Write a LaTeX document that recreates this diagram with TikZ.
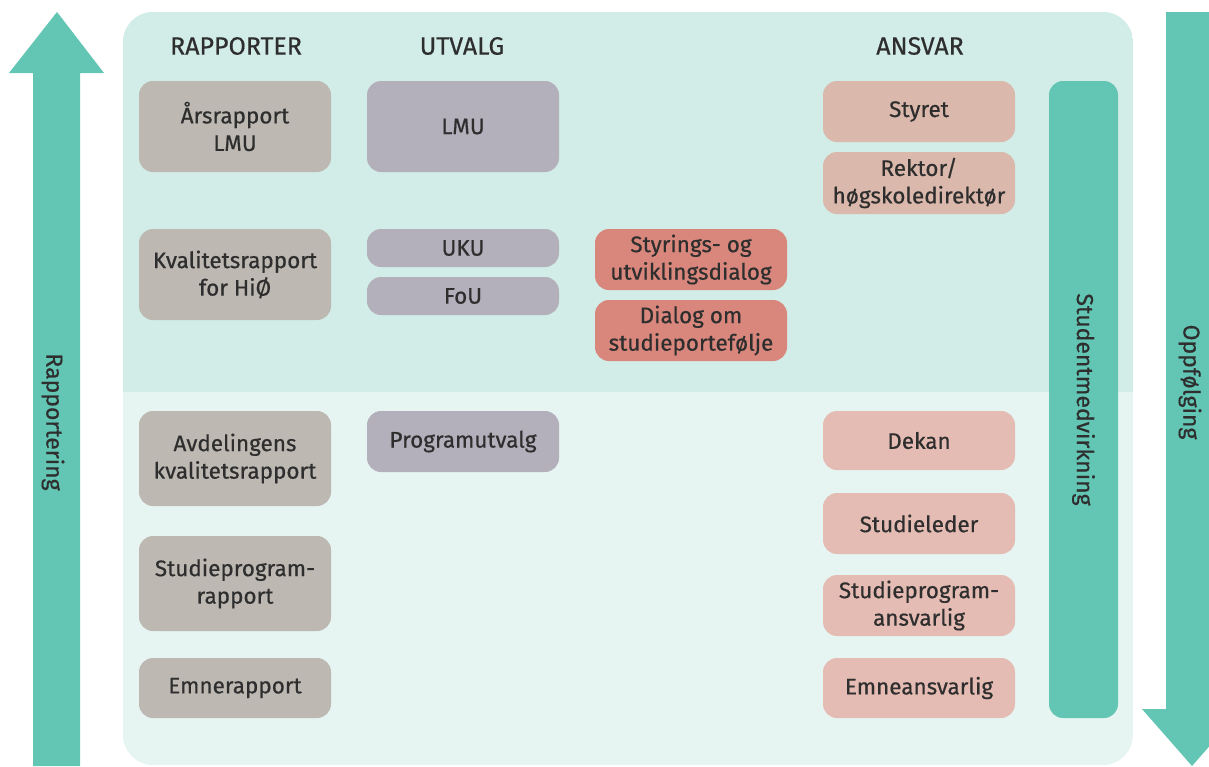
\documentclass[tikz,border=0pt]{standalone}
\usepackage{fontspec}
\setmainfont{Fira Sans}[FakeBold=0.5]
\definecolor{teal1}{HTML}{63C5B3}
\definecolor{paneltop}{HTML}{D2ECE7}
\definecolor{panelbot}{HTML}{E6F5F2}
\definecolor{grybox}{HTML}{BDB8B2}
\definecolor{purbox}{HTML}{B4B0BB}
\definecolor{redbox}{HTML}{D9877C}
\definecolor{pinktop}{HTML}{DAB8AB}
\definecolor{pinkbot}{HTML}{E4BCB3}
\definecolor{txt}{HTML}{2E2E2E}
\tikzset{
  box/.style={rectangle,rounded corners=14pt,minimum width=192pt,align=center,
    text=txt,font=\fontsize{22.5}{27.5}\selectfont,inner sep=2pt},
  rapp/.style={box,fill=grybox},
  utv/.style={box,fill=purbox},
  dial/.style={box,fill=redbox},
  ansv/.style={box,fill=pinktop},
  ansvlow/.style={box,fill=pinkbot},
  head/.style={text=txt,font=\fontsize{25}{28}\selectfont},
  vlabel/.style={rotate=-90,text=txt,font=\fontsize{23}{27}\selectfont}
}
\begin{document}
\begin{tikzpicture}[x=1pt,y=-1pt,line join=round]
\useasboundingbox (0,0) rectangle (1209,766);
\clip (0,0) rectangle (1209,766);
% background panel
\begin{scope}
  \clip[rounded corners=30pt] (123,12) rectangle (1133,765);
  \fill[panelbot] (123,12) rectangle (1133,765);
  \fill[paneltop] (123,12) rectangle (1133,392);
\end{scope}
% big arrows
\fill[teal1] (33,766) -- (33,73) -- (9,73) -- (57,12) -- (104,73) -- (80,73) -- (80,766) -- cycle;
\fill[teal1] (1166,12) -- (1166,709) -- (1142,709) -- (1192,766) -- (1242,709) -- (1218,709) -- (1218,12) -- cycle;
\node[vlabel] (rapportering) at (53,422) {Rapportering};
\node[vlabel] (oppfolging) at (1190,382) {Oppfølging};
% headers
\node[head] (hrapp) at (236,46) {RAPPORTER};
\node[head] (hutv) at (462,46) {UTVALG};
\node[head] (hansv) at (920,46) {ANSVAR};
% rapporter
\node[rapp,minimum height=91pt] (aars) at (235,126.5) {Årsrapport\\LMU};
\node[rapp,minimum height=91pt] (kval) at (235,274.5) {Kvalitetsrapport\\for HiØ};
\node[rapp,minimum height=95pt] (avd) at (235,458.5) {Avdelingens\\kvalitetsrapport};
\node[rapp,minimum height=95pt] (stprap) at (235,583.5) {Studieprogram-\\rapport};
\node[rapp,minimum height=60pt] (emnerap) at (235,688) {Emnerapport};
% utvalg
\node[utv,minimum height=91pt] (lmu) at (463,126.5) {LMU};
\node[utv,minimum height=38pt] (uku) at (463,248) {UKU};
\node[utv,minimum height=38pt] (fou) at (463,296) {FoU};
\node[utv,minimum height=61pt] (progutv) at (463,441.5) {Programutvalg};
% dialog
\node[dial,minimum height=61pt] (styr) at (691,259.5) {Styrings- og\\utviklingsdialog};
\node[dial,minimum height=61pt] (portef) at (691,330.5) {Dialog om\\studieportefølje};
% ansvar
\node[ansv,minimum height=61pt] (styret) at (919,111.5) {Styret};
\node[ansv,minimum height=62pt] (rektor) at (919,183) {Rektor/\\høgskoledirektør};
\node[ansvlow,minimum height=59pt] (dekan) at (919,440.5) {Dekan};
\node[ansvlow,minimum height=61pt] (stleder) at (919,523.5) {Studieleder};
\node[ansvlow,minimum height=61pt] (stpans) at (919,605.5) {Studieprogram-\\ansvarlig};
\node[ansvlow,minimum height=60pt] (emneans) at (919,688) {Emneansvarlig};
% studentmedvirkning
\node[vlabel,fill=teal1,rounded corners=14pt,minimum width=637pt,minimum height=69pt] (stud) at (1083.5,399.5) {Studentmedvirkning};
\end{tikzpicture}
\end{document}
